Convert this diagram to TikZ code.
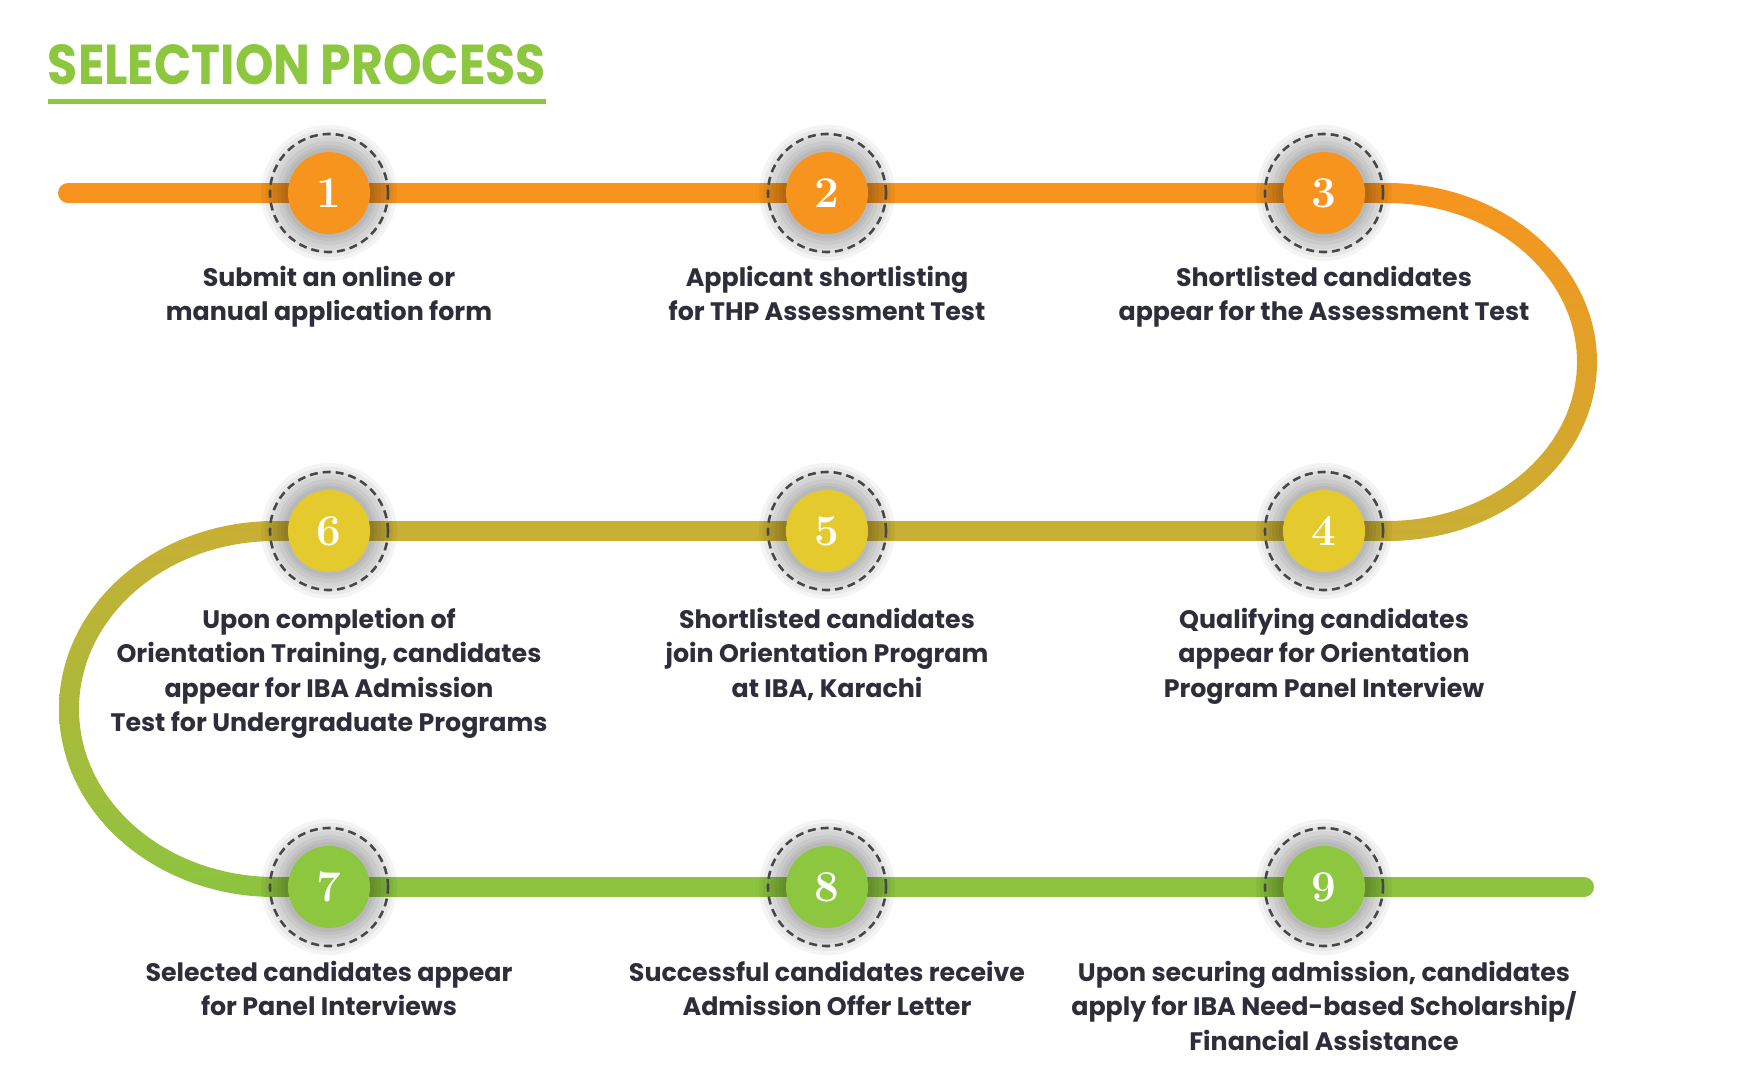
\documentclass[tikz,border=0pt]{standalone}
\usepackage{fontspec}
\usepackage{graphicx}
\newfontfamily\labelfont{Poppins}
\definecolor{tgreen}{HTML}{8DC63F}
\definecolor{torange}{HTML}{F7941D}
\definecolor{tolive}{HTML}{C9AF34}
\definecolor{tyellow}{HTML}{E4CA2C}
\definecolor{tgreenline}{HTML}{8CC43F}
\definecolor{textdark}{HTML}{2E2E3A}
\begin{document}
\begin{tikzpicture}[x=1pt,y=1pt,
  track/.style={line width=20pt,line cap=butt},
  halo/.style={fill=black,fill opacity=0.045},
  dashring/.style={draw=black!72,line width=2.6pt,dash pattern=on 8pt off 5pt},
  stepdot/.style={circle,minimum size=82pt,inner sep=0pt,text=white,font=\fontsize{44}{44}\selectfont\bfseries},
  lbl/.style={anchor=north,align=center,inner sep=0pt,text=textdark,font=\labelfont\bfseries\fontsize{25.3}{34.5}\selectfont}
]
\fill[white] (0,0) rectangle (1748,-1087);
\useasboundingbox (0,0) rectangle (1748,-1087);

% title
\node[text=tgreen,inner sep=0pt] (title) at (297,-65) {\resizebox{498pt}{40pt}{\labelfont\bfseries SELECTION PROCESS}};
\draw[tgreen,line width=5pt] (48,-101) -- (546,-101);

% step positions
\coordinate (p1) at (329,-193);
\coordinate (p2) at (827,-193);
\coordinate (p3) at (1324,-193);
\coordinate (p4) at (1324,-531);
\coordinate (p5) at (827,-531);
\coordinate (p6) at (329,-531);
\coordinate (p7) at (329,-887);
\coordinate (p8) at (827,-887);
\coordinate (p9) at (1324,-887);
\coordinate (s1) at (68,-193);
\coordinate (r1) at (1387,-193);
\coordinate (r2) at (1387,-531);
\coordinate (l2) at (275,-531);
\coordinate (l3) at (275,-887);
\coordinate (e3) at (1584,-887);

% track
\draw[track,torange] (s1) -- (r1);
\fill[torange] (s1) circle[radius=10pt];
\shade[top color=torange,bottom color=tolive]
  (1387,-183) arc[start angle=90,end angle=-90,x radius=210pt,y radius=179pt]
  -- (1387,-521) arc[start angle=-90,end angle=90,x radius=190pt,y radius=159pt] -- cycle;
\draw[track,tolive] (r2) -- (l2);
\shade[top color=tolive,bottom color=tgreenline]
  (275,-521) arc[start angle=90,end angle=270,x radius=216pt,y radius=188pt]
  -- (275,-877) arc[start angle=270,end angle=90,x radius=196pt,y radius=168pt] -- cycle;
\draw[track,tgreenline] (l3) -- (e3);
\fill[tgreenline] (e3) circle[radius=10pt];

% halos and rings
\foreach \p in {p1,p2,p3,p4,p5,p6,p7,p8,p9}{
  \foreach \r in {68,64,60,56,52,48,45}{
    \fill[halo] (\p) circle[radius=\r pt];
  }
  \draw[dashring] (\p) circle[radius=59pt];
}

% step circles
\node[stepdot,fill=torange] (c1) at (p1) {1};
\node[stepdot,fill=torange] (c2) at (p2) {2};
\node[stepdot,fill=torange] (c3) at (p3) {3};
\node[stepdot,fill=tyellow] (c4) at (p4) {4};
\node[stepdot,fill=tyellow] (c5) at (p5) {5};
\node[stepdot,fill=tyellow] (c6) at (p6) {6};
\node[stepdot,fill=tgreen] (c7) at (p7) {7};
\node[stepdot,fill=tgreen] (c8) at (p8) {8};
\node[stepdot,fill=tgreen] (c9) at (p9) {9};

% labels
\node[lbl] (t1) at (329,-266) {Submit an online or\\manual application form};
\node[lbl] (t2) at (827,-266) {Applicant shortlisting\\for THP Assessment Test};
\node[lbl] (t3) at (1324,-266) {Shortlisted candidates\\appear for the Assessment Test};
\node[lbl] (t4) at (1324,-608) {Qualifying candidates\\appear for Orientation\\Program Panel Interview};
\node[lbl] (t5) at (827,-608) {Shortlisted candidates\\join Orientation Program\\at IBA, Karachi};
\node[lbl] (t6) at (329,-608) {Upon completion of\\Orientation Training, candidates\\appear for IBA Admission\\Test for Undergraduate Programs};
\node[lbl] (t7) at (329,-961) {Selected candidates appear\\for Panel Interviews};
\node[lbl] (t8) at (827,-961) {Successful candidates receive\\Admission Offer Letter};
\node[lbl] (t9) at (1324,-961) {Upon securing admission, candidates\\apply for IBA Need-based Scholarship/\\Financial Assistance};
\end{tikzpicture}
\end{document}
